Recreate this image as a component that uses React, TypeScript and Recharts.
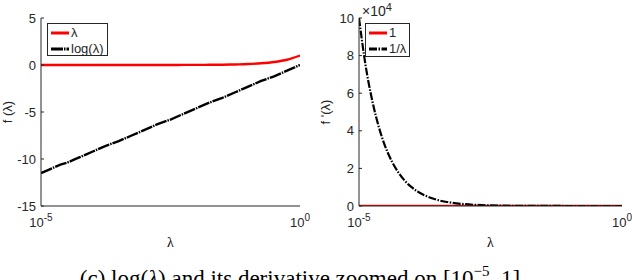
import React from 'react';
import { LineChart, Line, XAxis, YAxis, Legend } from 'recharts';

// lambda sample positions (x, log axis)
const lambdas = [
  1e-5, 1.33e-5, 1.78e-5, 2.37e-5, 3.16e-5, 4.22e-5, 5.62e-5, 7.5e-5, 1e-4,
  1.78e-4, 3.16e-4, 5.62e-4, 1e-3, 1.78e-3, 3.16e-3, 5.62e-3, 1e-2,
  1.78e-2, 3.16e-2, 5.62e-2, 0.1, 0.178, 0.316, 0.562, 1,
];
// left panel: f(λ)=λ (red) and log(λ) (black)
const lambdaSeries = [
  0, 0, 0, 0, 0, 0, 0, 0, 0,
  0, 0, 0, 0, 0, 0, 0.01, 0.01,
  0.02, 0.03, 0.06, 0.1, 0.18, 0.32, 0.56, 1,
];
const logSeries = [
  -11.5, -11.2, -10.9, -10.6, -10.4, -10.1, -9.8, -9.5, -9.2,
  -8.6, -8.1, -7.5, -6.9, -6.3, -5.8, -5.2, -4.6,
  -4.0, -3.5, -2.9, -2.3, -1.7, -1.2, -0.6, 0,
];
// right panel: f'(λ)=1 (red) and 1/λ (black)
const oneSeries = [
  1, 1, 1, 1, 1, 1, 1, 1, 1,
  1, 1, 1, 1, 1, 1, 1, 1,
  1, 1, 1, 1, 1, 1, 1, 1,
];
const invSeries = [
  100000, 75000, 56200, 42200, 31600, 23700, 17800, 13300, 10000,
  5620, 3160, 1780, 1000, 562, 316, 178, 100,
  56, 32, 18, 10, 5.6, 3.2, 1.8, 1,
];

const leftYTicks = [-15, -10, -5, 0, 5];
const rightYTicks = [0, 20000, 40000, 60000, 80000, 100000];
const rightYLabels = ['0', '2', '4', '6', '8', '10'];
const xTicks = [1e-5, 1];
const xTickExponents = ['-5', '0'];
const leftLegendOrder = ['λ', 'log(λ)'];
const rightLegendOrder = ['1', '1/λ'];

const leftData = lambdas.map((x, i) => ({ x, lam: lambdaSeries[i], log: logSeries[i] }));
const rightData = lambdas.map((x, i) => ({ x, one: oneSeries[i], inv: invSeries[i] }));

const AX = '#262626';
const SANS = '"Liberation Sans", Arial, sans-serif';
const SERIF = '"Liberation Serif", "Times New Roman", serif';

const makeLeftTick = (labels?: string[], ticks?: number[]) => (props: any) => {
  const { x, y, payload } = props;
  const axisX = x + 5;
  let label = String(payload.value);
  if (labels && ticks) {
    const idx = ticks.indexOf(payload.value);
    if (idx >= 0) label = labels[idx];
  }
  return (
    <g>
      <line x1={axisX} x2={axisX + 3} y1={y} y2={y} stroke={AX} strokeWidth={1} />
      <text x={x} y={y} dy="0.36em" textAnchor="end" fontSize={13} fontFamily={SANS} fill={AX}>
        {label}
      </text>
    </g>
  );
};

const MirrorTick = (props: any) => {
  const { x, y } = props;
  return <line x1={x - 3} x2={x} y1={y} y2={y} stroke={AX} strokeWidth={1} />;
};

const XTick = (props: any) => {
  const { x, y, payload } = props;
  const idx = xTicks.indexOf(payload.value);
  const exp = idx >= 0 ? xTickExponents[idx] : '';
  return (
    <text x={x} y={y + 19} textAnchor="middle" fontSize={13} fontFamily={SANS} fill={AX}>
      10
      <tspan fontSize={10} dy={-6}>{exp}</tspan>
    </text>
  );
};

const LegendBox = (w: number, h: number, order: string[]) => (props: any) => {
  const payload = [...(props.payload || [])].sort(
    (a: any, b: any) => order.indexOf(a.value) - order.indexOf(b.value)
  );
  return (
    <div
      style={{
        width: w,
        height: h,
        boxSizing: 'border-box',
        border: `1px solid ${AX}`,
        background: '#fff',
        padding: '1px 0 0 3px',
        fontFamily: SANS,
        fontSize: 13,
        lineHeight: '16px',
        color: AX,
      }}
    >
      {payload.map((e: any, i: number) => (
        <div key={i} style={{ display: 'flex', alignItems: 'center', height: 16 }}>
          <svg width={18} height={6} style={{ marginRight: 2 }}>
            <line
              x1={0}
              x2={18}
              y1={3}
              y2={3}
              stroke={e.color}
              strokeWidth={3}
              strokeDasharray={e.payload && e.payload.strokeDasharray}
            />
          </svg>
          <span>{e.value}</span>
        </div>
      ))}
    </div>
  );
};

const YLabel = (text: string, bx: number) => (props: any) => {
  const vb = props.viewBox || {};
  const cy = (vb.y || 0) + (vb.height || 0) / 2;
  return (
    <text
      x={bx}
      y={cy}
      transform={`rotate(-90 ${bx} ${cy})`}
      textAnchor="middle"
      fontSize={13}
      fontFamily={SANS}
      fill={AX}
    >
      {text}
    </text>
  );
};

const XLabel = (props: any) => {
  const vb = props.viewBox || {};
  const cx = (vb.x || 0) + (vb.width || 0) / 2;
  return (
    <text x={cx} y={(vb.y || 0) + 41} textAnchor="middle" fontSize={14} fontFamily={SERIF} fill="#000">
      λ
    </text>
  );
};

export default function App() {
  return (
    <div style={{ position: 'absolute', left: 0, top: 0, width: 632, height: 280, background: '#fff', overflow: 'hidden' }}>
      <div style={{ position: 'absolute', left: 0, top: 0 }}>
        <LineChart width={316} height={280} data={leftData} margin={{ top: 18, right: 16, bottom: 44, left: 0 }}>
          <XAxis
            dataKey="x"
            type="number"
            scale="log"
            domain={[1e-5, 1]}
            ticks={xTicks}
            allowDataOverflow
            height={30}
            tickLine={false}
            tickSize={0}
            tick={<XTick />}
            stroke={AX}
            label={<XLabel />}
          />
          <XAxis xAxisId="top" dataKey="x" type="number" scale="log" domain={[1e-5, 1]} orientation="top" height={0} tick={false} tickLine={false} stroke={AX} allowDataOverflow />
          <YAxis
            type="number"
            domain={[-15, 5]}
            ticks={leftYTicks}
            width={41}
            tickLine={false}
            tickSize={0}
            tickMargin={5}
            tick={makeLeftTick()}
            stroke={AX}
            allowDataOverflow
            label={YLabel('f (λ)', 12)}
          />
          <YAxis yAxisId="r" orientation="right" type="number" domain={[-15, 5]} ticks={leftYTicks} width={0} tickLine={false} tickSize={0} tickMargin={0} tick={<MirrorTick />} stroke={AX} />
          <Line dataKey="lam" name="λ" stroke="#ff0000" strokeWidth={2.4} dot={false} type="monotone" isAnimationActive={false} />
          <Line dataKey="log" name="log(λ)" stroke="#000" strokeWidth={2.4} strokeDasharray="12 1 1.5 1" dot={false} type="linear" isAnimationActive={false} />
          <Legend layout="vertical" align="center" verticalAlign="middle" wrapperStyle={{ left: 47, top: 23 }} content={LegendBox(61, 33, leftLegendOrder)} />
        </LineChart>
      </div>
      <div style={{ position: 'absolute', left: 316, top: 0 }}>
        <LineChart width={316} height={280} data={rightData} margin={{ top: 18, right: 10, bottom: 44, left: 0 }}>
          <XAxis
            dataKey="x"
            type="number"
            scale="log"
            domain={[1e-5, 1]}
            ticks={xTicks}
            allowDataOverflow
            height={30}
            tickLine={false}
            tickSize={0}
            tick={<XTick />}
            stroke={AX}
            label={<XLabel />}
          />
          <XAxis xAxisId="top" dataKey="x" type="number" scale="log" domain={[1e-5, 1]} orientation="top" height={0} tick={false} tickLine={false} stroke={AX} allowDataOverflow />
          <YAxis
            type="number"
            domain={[0, 100000]}
            ticks={rightYTicks}
            width={43}
            tickLine={false}
            tickSize={0}
            tickMargin={5}
            tick={makeLeftTick(rightYLabels, rightYTicks)}
            stroke={AX}
            allowDataOverflow
            label={YLabel("f '(λ)", 14)}
          />
          <YAxis yAxisId="r" orientation="right" type="number" domain={[0, 100000]} ticks={rightYTicks} width={0} tickLine={false} tickSize={0} tickMargin={0} tick={<MirrorTick />} stroke={AX} />
          <Line dataKey="one" name="1" stroke="#ff0000" strokeWidth={2.4} dot={false} type="linear" isAnimationActive={false} />
          <Line dataKey="inv" name="1/λ" stroke="#000" strokeWidth={2.2} strokeDasharray="8 1.5 1.5 1.5" dot={false} type="monotone" isAnimationActive={false} />
          <Legend layout="vertical" align="center" verticalAlign="middle" wrapperStyle={{ left: 49, top: 23 }} content={LegendBox(45, 34, rightLegendOrder)} />
        </LineChart>
      </div>
      <svg width={632} height={280} style={{ position: 'absolute', left: 0, top: 0, pointerEvents: 'none' }}>
        <text x={362} y={16} fontSize={14} fontFamily={SANS} fill={AX}>
          ×10
          <tspan fontSize={11} dy={-5}>4</tspan>
        </text>
        <text x={300} y={286} textAnchor="middle" fontSize={23} fontFamily={SERIF} fill="#000">
          (c) log(<tspan fontStyle="italic">λ</tspan>) and its derivative zoomed on [10
          <tspan fontSize={15} dy={-10}>−5</tspan>
          <tspan dy={10}>, 1]</tspan>
        </text>
      </svg>
    </div>
  );
}
